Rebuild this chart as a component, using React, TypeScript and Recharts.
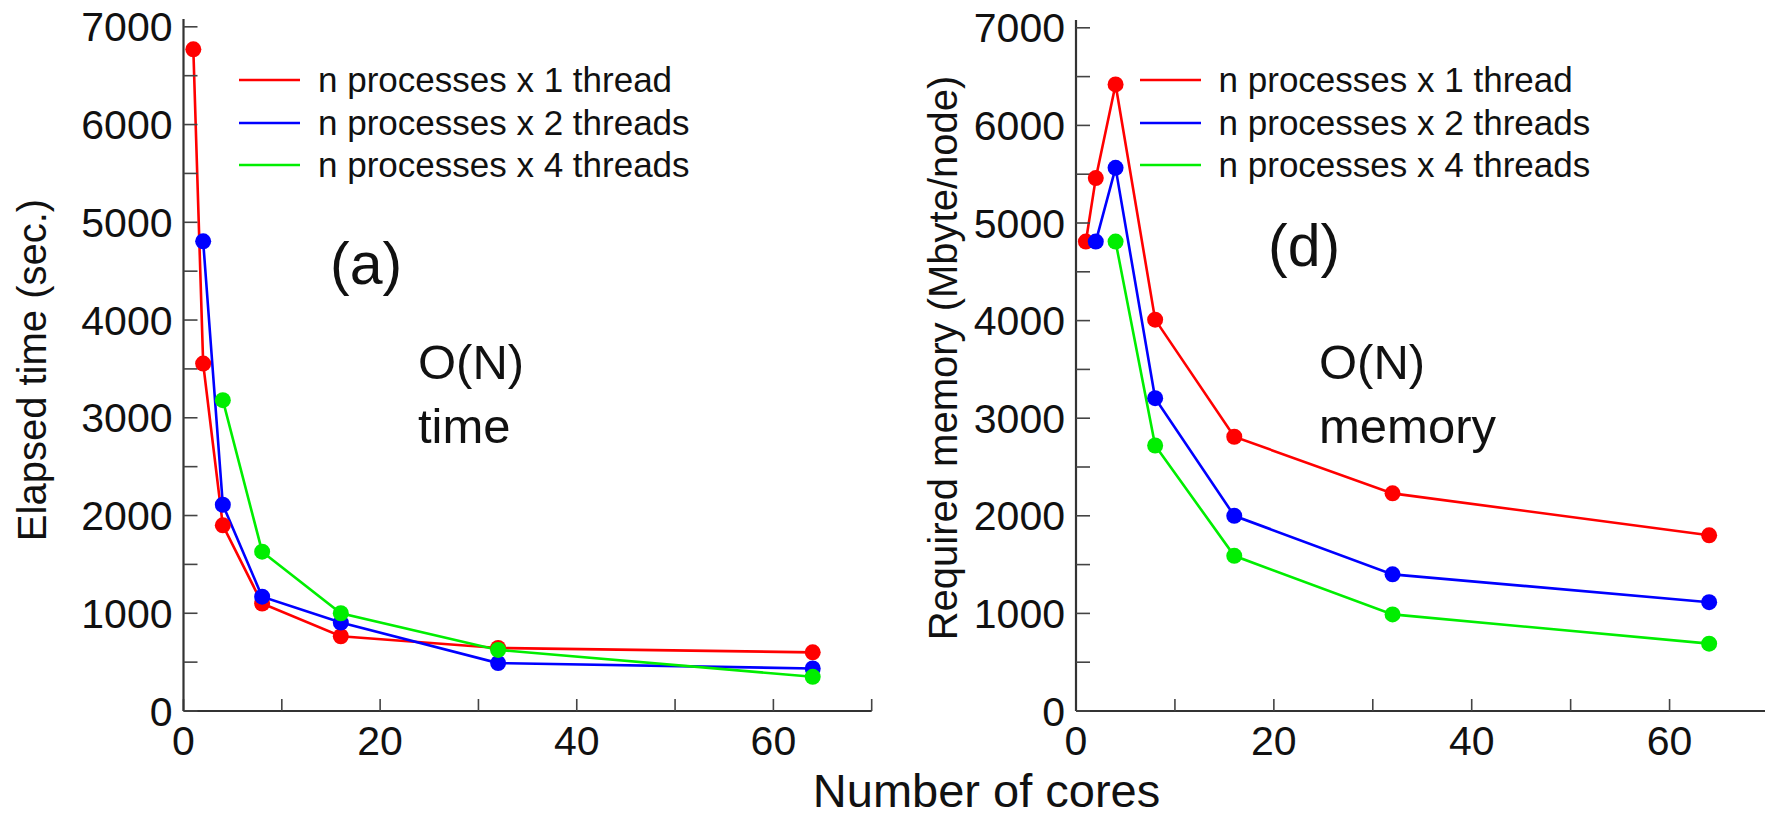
import { Legend, Line, LineChart, XAxis, YAxis } from "recharts";

const cores = [1, 2, 4, 8, 16, 32, 64];

// (a) elapsed time, seconds
const timeOneThread = [6770, 3555, 1900, 1100, 765, 645, 600];
const timeTwoThreads = [null, 4805, 2110, 1170, 905, 490, 435];
const timeFourThreads = [null, null, 3180, 1630, 1000, 625, 350];

// (d) required memory, Mbyte/node
const memOneThread = [4810, 5460, 6420, 4010, 2810, 2230, 1800];
const memTwoThreads = [null, 4810, 5565, 3205, 2000, 1400, 1115];
const memFourThreads = [null, null, 4810, 2720, 1590, 990, 690];

const seriesNames = [
  "n processes x 1 thread",
  "n processes x 2 threads",
  "n processes x 4 threads",
];
const seriesColors = ["#ff0000", "#0000ff", "#00ee00"];

const xTicks = [0, 10, 20, 30, 40, 50, 60, 70];
const yTicks = [0, 500, 1000, 1500, 2000, 2500, 3000, 3500, 4000, 4500, 5000, 5500, 6000, 6500, 7000];

const FONT = "'Liberation Sans', Arial, Helvetica, sans-serif";
const TICK_FONT = 41;
const ROW_H = 42.4;

function buildRows(a: (number | null)[], b: (number | null)[], c: (number | null)[]) {
  return cores.map((x, i) => ({ cores: x, s1: a[i], s2: b[i], s3: c[i] }));
}

const xLabel = (v: number) => (v % 20 === 0 && v <= 60 ? String(v) : "");
const yLabel = (v: number) => (v % 1000 === 0 ? String(v) : "");

function LegendBox(props: any) {
  const { payload } = props;
  return (
    <div style={{ position: "relative", width: 460, fontFamily: FONT, color: "#111" }}>
      {(payload || []).map((entry: any) => (
        <div key={entry.value} style={{ position: "relative", height: ROW_H }}>
          <svg
            width={61}
            height={6}
            style={{ position: "absolute", left: 0, top: ROW_H / 2 - 3 }}
          >
            <line x1={0} y1={3} x2={61} y2={3} stroke={entry.color} strokeWidth={2.6} />
          </svg>
          <span
            style={{
              position: "absolute",
              left: 79,
              top: 0,
              fontSize: 35,
              lineHeight: `${ROW_H}px`,
              whiteSpace: "nowrap",
            }}
          >
            {entry.value}
          </span>
        </div>
      ))}
    </div>
  );
}

interface PanelProps {
  left: number;
  width: number;
  axisWidth: number;
  top: number;
  rightMargin: number;
  data: ReturnType<typeof buildRows>;
  legendLeft: number;
}

function Panel({ left, width, axisWidth, top, rightMargin, data, legendLeft }: PanelProps) {
  const axisLine = { stroke: "#333", strokeWidth: 2.2 };
  const tickLine = { stroke: "#444", strokeWidth: 1.6 };
  return (
    <div style={{ position: "absolute", left, top: 0 }}>
      <LineChart
        width={width}
        height={816}
        data={data}
        margin={{ top, right: rightMargin, bottom: 0, left: 0 }}
      >
        <XAxis
          xAxisId="bottom"
          dataKey="cores"
          type="number"
          domain={[0, 70]}
          ticks={xTicks}
          interval={0}
          height={105}
          tickSize={-12}
          tickMargin={27}
          tickFormatter={xLabel}
          tick={{ fill: "#111", fontSize: TICK_FONT, fontFamily: FONT }}
          axisLine={axisLine}
          tickLine={tickLine}
        />
        <XAxis
          xAxisId="top"
          orientation="top"
          dataKey="cores"
          type="number"
          domain={[0, 70]}
          ticks={xTicks}
          interval={0}
          height={0}
          tickSize={-12}
          tickFormatter={() => ""}
          axisLine={axisLine}
          tickLine={tickLine}
        />
        <YAxis
          yAxisId="left"
          type="number"
          domain={[0, 7080]}
          ticks={yTicks}
          interval={0}
          width={axisWidth}
          tickSize={-14}
          tickMargin={25}
          tickFormatter={yLabel}
          tick={{ fill: "#111", fontSize: TICK_FONT, fontFamily: FONT }}
          axisLine={axisLine}
          tickLine={tickLine}
        />
        <YAxis
          yAxisId="right"
          orientation="right"
          type="number"
          domain={[0, 7080]}
          ticks={yTicks}
          interval={0}
          width={0}
          tickSize={-13}
          tickFormatter={() => ""}
          axisLine={axisLine}
          tickLine={tickLine}
        />
        <Legend
          layout="vertical"
          align="center"
          verticalAlign="middle"
          wrapperStyle={{ left: legendLeft, top: 80.5 - ROW_H / 2, width: 460 }}
          content={<LegendBox />}
        />
        {["s1", "s2", "s3"].map((key, i) => (
          <Line
            key={key}
            xAxisId="bottom"
            yAxisId="left"
            type="linear"
            dataKey={key}
            name={seriesNames[i]}
            stroke={seriesColors[i]}
            strokeWidth={2.6}
            dot={{ r: 8, fill: seriesColors[i], stroke: "none" }}
            activeDot={false}
            connectNulls={false}
            isAnimationActive={false}
          />
        ))}
      </LineChart>
    </div>
  );
}

const textStyle = {
  position: "absolute" as const,
  fontFamily: FONT,
  color: "#111",
  lineHeight: 1,
  whiteSpace: "nowrap" as const,
};

export default function App() {
  const timeRows = buildRows(timeOneThread, timeTwoThreads, timeFourThreads);
  const memRows = buildRows(memOneThread, memTwoThreads, memFourThreads);
  return (
    <div
      style={{
        position: "absolute",
        left: 0,
        top: 0,
        width: 1765,
        height: 816,
        overflow: "hidden",
        background: "#fff",
      }}
    >
      <Panel left={0} width={900} axisWidth={183.5} top={19} rightMargin={28.3} data={timeRows} legendLeft={239} />
      <Panel left={880} width={900} axisWidth={196} top={20} rightMargin={11.5} data={memRows} legendLeft={259.6} />

      <div style={{ ...textStyle, fontSize: 59, left: 330, top: 235 }}>(a)</div>
      <div style={{ ...textStyle, fontSize: 49, left: 418, top: 338 }}>O(N)</div>
      <div style={{ ...textStyle, fontSize: 49, left: 418, top: 402 }}>time</div>

      <div style={{ ...textStyle, fontSize: 59, left: 1268, top: 217 }}>(d)</div>
      <div style={{ ...textStyle, fontSize: 49, left: 1319, top: 338 }}>O(N)</div>
      <div style={{ ...textStyle, fontSize: 49, left: 1319, top: 402 }}>memory</div>

      <div
        style={{
          ...textStyle,
          fontSize: 40,
          left: 31.5,
          top: 369.5,
          transform: "translate(-50%, -50%) rotate(-90deg)",
        }}
      >
        Elapsed time (sec.)
      </div>
      <div
        style={{
          ...textStyle,
          fontSize: 40,
          left: 942.5,
          top: 358,
          transform: "translate(-50%, -50%) rotate(-90deg)",
        }}
      >
        Required memory (Mbyte/node)
      </div>
      <div
        style={{
          ...textStyle,
          fontSize: 47,
          left: 986.5,
          top: 767,
          transform: "translateX(-50%)",
        }}
      >
        Number of cores
      </div>
    </div>
  );
}
